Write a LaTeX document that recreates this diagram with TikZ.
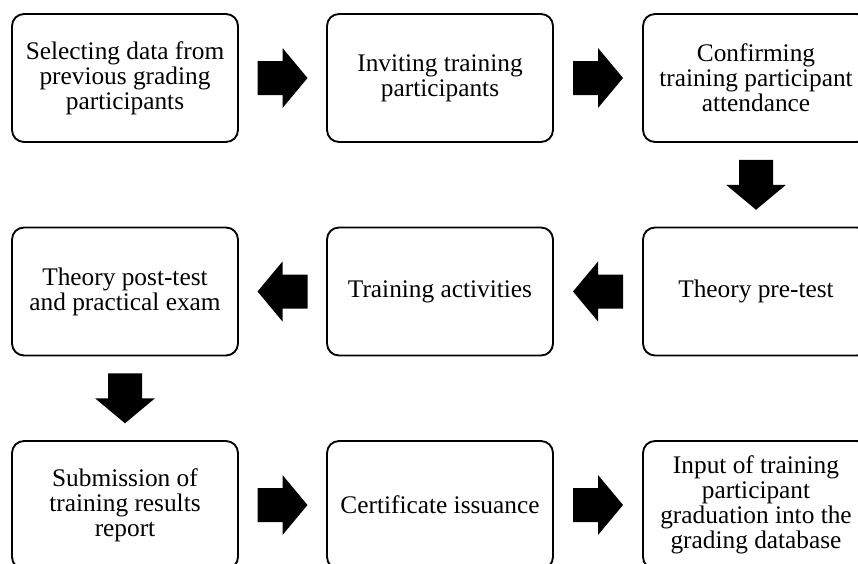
\documentclass[tikz,border=0pt]{standalone}
\usepackage{fontspec}
\setmainfont{Liberation Serif}
\usetikzlibrary{calc}

\tikzset{every picture/.style={line width=0.75pt}}
\tikzset{
  stepbox/.style={draw, line width=1.4pt, rounded corners=9pt, minimum width=169.5pt, minimum height=96pt,
    align=center, font=\fontsize{19}{18.8}\selectfont},
  blockarrow/.pic={
    \fill (-25,-17) -- (0,-17) -- (0,-30) -- (25,0) -- (0,30) -- (0,17) -- (-25,17) -- cycle;
  }
}

\begin{document}
\begin{tikzpicture}[x=0.75pt,y=0.75pt,yscale=-1,xscale=1]
\useasboundingbox (0,0) rectangle (858,564);

% Row 1
\node[stepbox] (sel) at (125,78) {Selecting data from\\previous grading\\participants};
\node[stepbox] (inv) at (440,78) {Inviting training\\participants};
\node[stepbox] (conf) at (756,78) {Confirming\\training participant\\attendance};
% Row 2
\node[stepbox] (post) at (125,291.5) {Theory post-test\\and practical exam};
\node[stepbox] (act) at (440,291.5) {Training activities};
\node[stepbox] (pre) at (756,291.5) {Theory pre-test};
% Row 3
\node[stepbox] (subm) at (125,505) {Submission of\\training results\\report};
\node[stepbox] (cert) at (440,505) {Certificate issuance};
\node[stepbox] (inp) at (756,505) {Input of training\\participant\\graduation into the\\grading database};

% Block arrows
\pic at ($(sel.east)!0.5!(inv.west)$) {blockarrow};
\pic at ($(inv.east)!0.5!(conf.west)$) {blockarrow};
\pic[rotate=-90] at ($(conf.south)!0.5!(pre.north)$) {blockarrow};
\pic[rotate=180] at ($(pre.west)!0.5!(act.east)$) {blockarrow};
\pic[rotate=180] at ($(act.west)!0.5!(post.east)$) {blockarrow};
\pic[rotate=-90] at ($(post.south)!0.5!(subm.north)$) {blockarrow};
\pic at ($(subm.east)!0.5!(cert.west)$) {blockarrow};
\pic at ($(cert.east)!0.5!(inp.west)$) {blockarrow};

\end{tikzpicture}
\end{document}
